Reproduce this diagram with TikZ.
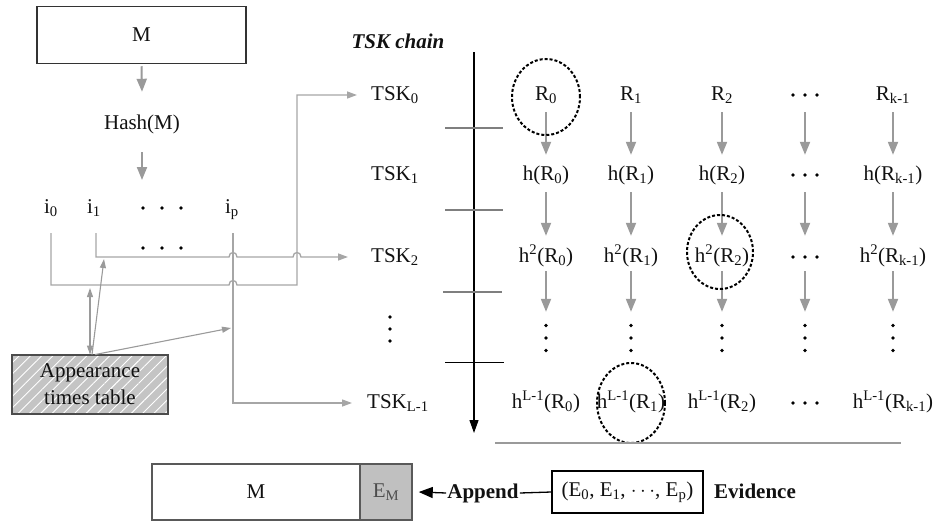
\documentclass[tikz,border=0pt]{standalone}
\usepackage{fontspec}
\setmainfont{Liberation Serif}
\usetikzlibrary{arrows.meta,patterns.meta}

\definecolor{garrow}{HTML}{9A9A9A}
\definecolor{gwire}{HTML}{A6A6A6}
\definecolor{gtick}{HTML}{7F7F7F}
\definecolor{hatchfill}{HTML}{C4C4C4}
\definecolor{emfill}{HTML}{C0C0C0}
\definecolor{txt}{HTML}{111111}

\begin{document}
\begin{tikzpicture}[x=1pt,y=-1pt,
  font=\fontsize{21}{25}\selectfont,
  every node/.style={text=txt},
  lbl/.style={inner sep=0pt, minimum height=34pt, text height=14pt, text depth=4pt},
  tsklbl/.style={lbl, anchor=west},
  boldlbl/.style={lbl, font=\bfseries\fontsize{21}{25}\selectfont},
  garr/.style={draw=garrow, line width=2pt, -{Triangle[width=10pt,length=13pt]}},
  wire/.style={draw=gwire, line width=1.3pt},
  wtip/.style={-{Triangle[width=7pt,length=10pt]}},
  tarr/.style={draw=garrow, line width=1.1pt},
  tickline/.style={draw=gtick, line width=2.5pt},
  dcirc/.style={draw=black, line width=2pt, dash pattern=on 3pt off 2pt},
  dotrow/.style={inner sep=0pt, minimum width=4pt, minimum height=52pt},
  ]
\useasboundingbox (0,0) rectangle (942,522);

% ---------- left part ----------
\node[draw=black!80, line width=1.5pt, minimum width=209pt, minimum height=57pt, inner sep=0pt] (mtop) at (141.5,35) {M};
\node[lbl] (hash) at (142,124) {Hash(M)};
\coordinate (hashend) at (142,180);
\draw[garr] ([yshift=-2pt]mtop.south) -- ([yshift=15pt]hash.north);
\draw[garr] ([yshift=-11pt]hash.south) -- (hashend);

\node[lbl] (i0) at (51,208) {i\textsubscript{0}};
\node[lbl] (i1) at (94,208) {i\textsubscript{1}};
\node[lbl] (ip) at (232,208) {i\textsubscript{p}};
\foreach \x in {143,162,181} {
  \fill (\x,208) circle (1.8pt);
  \fill (\x,248) circle (1.8pt);
}

% TSK labels
\node[tsklbl] (tsk0) at (371,95) {TSK\textsubscript{0}};
\node[tsklbl] (tsk1) at (371,175) {TSK\textsubscript{1}};
\node[tsklbl] (tsk2) at (371,257) {TSK\textsubscript{2}};
\node[tsklbl] (tskl) at (367,403) {TSK\textsubscript{L-1}};
\foreach \y in {317,329,341} \fill (390,\y) circle (1.8pt);

% wires
\draw[wire,wtip] ([yshift=-8pt]i0.south) -- (51,285) -- (229,285)
  .. controls (229,279) and (237,279) .. (237,285) -- (297,285)
  |- ([xshift=-14pt]tsk0.west);
\draw[wire,wtip] ([xshift=2pt,yshift=-8pt]i1.south) -- (96,257) -- (229,257)
  .. controls (229,251) and (237,251) .. (237,257) -- (293,257)
  .. controls (293,251) and (301,251) .. (301,257)
  -- ([xshift=-23pt]tsk2.west);
\draw[wire,wtip] ([xshift=1pt,yshift=-8pt]ip.south) |- ([xshift=-15pt]tskl.west);

% appearance table
\node[draw=black!70, line width=1.5pt, preaction={fill=hatchfill},
  pattern={Lines[angle=45,distance=8pt,line width=0.9pt]}, pattern color=white,
  minimum width=156pt, minimum height=59pt, inner sep=0pt, align=center,
  font=\fontsize{21}{27}\selectfont] (tab) at (90,384.5) {Appearance\\times table};
\coordinate (a0) at (90,288);
\coordinate (a1) at (104,259);
\coordinate (a2) at (231,328);
\draw[tarr,{Triangle[width=6pt,length=9pt]}-{Triangle[width=6pt,length=9pt]}] (tab.north) -- (a0);
\draw[tarr,-{Triangle[width=6pt,length=9pt]}] ([xshift=2pt]tab.north) -- (a1);
\draw[tarr,-{Triangle[width=6pt,length=9pt]}] ([xshift=5pt]tab.north) -- (a2);

% ---------- chain ----------
\node[lbl, font=\bfseries\itshape\fontsize{21}{25}\selectfont] (chain) at (398,43) {TSK chain};
\coordinate (axtop) at (474,52);
\coordinate (axbot) at (474,433);
\draw[black, line width=1.2pt, -{Triangle[width=9pt,length=13pt]}] (axtop) -- (axbot);
\draw[tickline] (445,128) -- (503,128);
\draw[tickline] (445,210) -- (503,210);
\draw[tickline] (443,292) -- (502,292);
\draw[black, line width=1pt] (445,362) -- (504,362);

\foreach \c/\x/\s in {0/546/0,1/631/1,2/722/2,4/893/k-1} {
  \node[lbl] (r0c\c) at (\x,95) {R\textsubscript{\s}};
  \node[lbl] (r1c\c) at (\x,175) {h(R\textsubscript{\s})};
  \node[lbl] (r2c\c) at (\x,257) {h\textsuperscript{2}(R\textsubscript{\s})};
  \node[lbl] (r4c\c) at (\x,403) {h\textsuperscript{L-1}(R\textsubscript{\s})};
}
\foreach \rw/\y in {0/95,1/175,2/257,4/403} {
  \node[lbl, minimum width=30pt] (r\rw c3) at (805,\y) {};
  \foreach \dx in {-12,0,12} \fill (805+\dx,\y) circle (1.8pt);
}
\foreach \c/\x in {0/546,1/631,2/722,3/805,4/893} {
  \node[dotrow] (r3c\c) at (\x,338) {};
  \foreach \dy in {-12.5,0,12.5} \fill (\x,338+\dy) circle (1.8pt);
  \draw[garr, shorten >=3pt] (r0c\c.south) -- (r1c\c.north);
  \draw[garr, shorten >=4pt] (r1c\c.south) -- (r2c\c.north);
  \draw[garr, shorten <=-3pt] (r2c\c.south) -- (r3c\c.north);
}

\draw[dcirc] ([yshift=-2pt]r0c0.center) ellipse [x radius=34pt, y radius=38pt];
\draw[dcirc] ([xshift=-2pt,yshift=5pt]r2c2.center) ellipse [x radius=33pt, y radius=37pt];
\draw[dcirc] (r4c1.center) ellipse [x radius=34pt, y radius=40pt];

\draw[draw=garrow, line width=2pt] (495,443) -- (901,443);

% ---------- bottom ----------
\node[draw=black!65, line width=1.5pt, minimum width=208pt, minimum height=56pt, inner sep=0pt] (mbot) at (256,492) {M};
\node[draw=black!65, line width=1.5pt, fill=emfill, minimum width=52pt, minimum height=56pt, inner sep=0pt, text=black!70] (em) at (386,492) {E\textsubscript{M}};
\node[boldlbl] (append) at (483,493) {Append};
\node[draw=black, line width=1.2pt, minimum width=151pt, minimum height=42pt, inner sep=0pt] (ev) at (627.5,492) {(E\textsubscript{0}, E\textsubscript{1}, $\cdots$, E\textsubscript{p})};
\node[boldlbl] (evid) at (755,493) {Evidence};
\draw[black, line width=1.3pt] (ev.west) -- ([xshift=1pt]append.east);
\draw[black, line width=1.3pt, -{Triangle[width=11pt,length=14pt]}] ([xshift=-1pt]append.west) -- ([xshift=6pt]em.east);

\end{tikzpicture}
\end{document}
